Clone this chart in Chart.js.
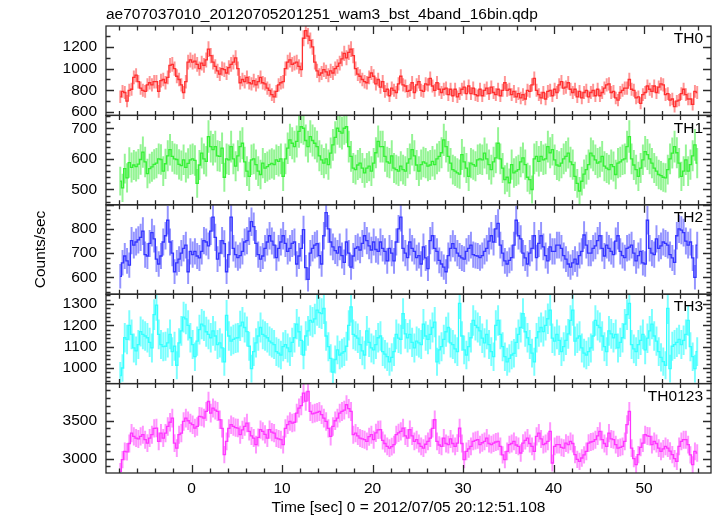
<!DOCTYPE html>
<html><head><meta charset="utf-8">
<script src="https://cdn.jsdelivr.net/npm/chart.js@4.4.1/dist/chart.umd.min.js"></script>
<style>html,body{margin:0;padding:0;background:#fff;}canvas{display:block;}</style>
</head><body>
<canvas id="c" width="717" height="516"></canvas>
<script>
const TITLE = 'ae707037010_20120705201251_wam3_bst_4band_16bin.qdp';
const X_TITLE = 'Time [sec] 0 = 2012/07/05 20:12:51.108';
const Y_TITLE = 'Counts/sec';
const PANEL_NAMES = ['TH0', 'TH1', 'TH2', 'TH3', 'TH0123'];
const BIN_START = -8;      // s, first bin left edge
const BIN_WIDTH = 0.25;    // s

const th0 = [
 740,790,780,700,800,810,920,940,880,820,800,790,850,870,850,880,
 880,790,890,900,870,920,1030,1040,1000,930,900,850,780,880,1060,1080,
 1060,1070,1040,1000,1050,1030,1080,1180,1120,1060,1020,980,950,1000,990,960,
 1010,1040,1060,1100,1000,870,900,880,920,870,860,890,850,880,920,870,
 860,820,800,760,740,790,850,870,880,1000,1060,1080,1040,1050,1060,1020,
 990,1280,1350,1300,1260,1200,1060,980,940,960,990,970,940,980,960,1000,
 1020,1050,1090,1140,1100,1150,1180,1120,1000,950,930,900,880,870,920,960,
 930,860,900,830,880,790,810,750,820,800,780,860,930,850,840,790,
 800,870,780,850,880,800,790,860,850,910,840,800,870,810,780,810,
 820,760,810,750,810,740,770,810,830,770,840,770,820,760,750,810,
 750,800,820,770,830,780,760,810,750,800,870,800,810,760,790,740,
 770,730,760,720,800,790,850,910,800,760,730,780,720,790,800,750,
 810,780,850,880,820,830,870,810,780,810,740,790,730,780,800,740,
 780,800,750,810,750,780,820,850,860,780,790,730,710,780,800,820,
 820,900,810,800,730,740,680,760,780,840,810,790,840,780,830,860,
 850,760,770,710,720,650,700,710,770,810,760,720,720,670,790,780
];
const th1 = [
 527,505,568,538,588,572,580,575,583,598,622,590,552,568,574,582,
 586,600,598,560,584,610,630,608,600,598,582,578,597,572,585,597,
 600,595,520,580,619,600,592,673,640,630,640,610,608,635,540,600,
 597,640,600,576,610,640,651,590,560,543,597,600,581,560,549,586,
 570,575,581,585,581,597,592,600,543,600,635,662,651,640,657,690,
 705,700,660,640,673,660,651,640,610,597,586,600,581,619,646,670,
 700,690,684,700,705,640,608,570,565,580,586,570,554,570,576,560,
 586,620,657,640,640,608,590,586,610,570,565,560,576,565,560,586,
 600,630,610,580,560,581,590,586,576,580,592,581,600,608,620,662,
 640,608,586,565,560,554,550,614,590,570,543,586,581,576,597,600,
 597,619,600,581,565,590,603,651,600,570,532,540,522,581,554,560,
 565,590,603,581,540,532,500,600,608,592,608,597,600,640,620,630,
 597,580,576,586,600,608,619,590,581,543,520,495,527,550,565,581,
 619,610,597,586,590,608,576,570,565,581,575,549,586,590,597,600,
 640,673,600,580,565,543,570,597,624,614,600,586,570,560,549,545,
 540,538,565,600,619,640,620,586,543,560,597,560,581,610,646,586
];
const th2 = [
 604,660,688,668,650,752,733,746,755,765,791,694,688,740,785,759,
 675,655,688,746,772,836,746,700,623,660,675,700,720,733,623,707,
 694,707,688,680,707,752,746,730,791,849,765,675,700,752,739,623,
 694,849,720,694,681,690,707,746,752,791,830,810,740,694,675,688,
 720,746,772,750,733,681,720,746,772,740,707,720,740,746,655,688,
 720,797,640,591,700,720,733,739,690,655,772,868,800,746,726,710,
 700,726,690,662,746,700,642,688,720,726,713,740,772,752,730,713,
 746,715,707,746,720,707,668,720,700,668,746,800,849,720,700,681,
 746,720,707,681,690,655,726,680,636,752,772,720,707,670,655,642,
 623,690,720,739,720,700,688,680,675,707,720,733,694,690,688,681,
 690,707,720,750,772,746,800,823,733,700,668,655,670,681,733,836,
 772,759,700,680,655,700,720,772,681,740,772,726,690,668,726,707,
 707,733,733,720,690,675,655,642,660,675,655,690,707,775,733,700,
 700,720,730,752,772,720,688,733,720,707,694,750,772,707,690,681,
 720,725,733,700,668,690,707,660,655,836,720,700,694,759,720,730,
 746,740,733,694,680,662,772,800,795,785,750,733,746,680,600,733
];
const th3 = [
 965,1000,1142,1134,1200,1158,1094,1080,1110,1171,1158,1150,1142,1120,1094,1250,
 1295,1158,1110,1100,1102,1118,1158,1077,1102,1013,1118,1174,1239,1230,1200,1142,
 1110,1053,1126,1180,1206,1198,1170,1158,1142,1174,1150,1110,1118,1094,1029,1247,
 1150,1126,1134,1140,1142,1198,1215,1190,1171,1102,997,1077,1118,1150,1190,1158,
 1150,1142,1126,1118,1110,1077,1070,1061,1100,1110,1094,1077,1120,1142,1206,1170,
 1130,1061,1150,1174,1223,1215,1230,1271,1260,1255,1279,1150,1100,1045,981,1040,
 1085,1061,1070,1077,1102,1200,1287,1158,1150,1140,1110,1080,1061,1174,1120,1094,
 1085,1110,1142,1150,1077,1065,1053,1029,1050,1077,1158,1140,1134,1255,1160,1142,
 1158,1120,1094,1126,1118,1110,1206,1150,1134,1158,1190,1215,1029,1085,1100,1134,
 1170,1190,1118,1110,1090,1077,1303,1150,1085,1061,1100,1142,1223,1200,1190,1174,
 1140,1118,1158,1110,1077,1053,1200,1223,1158,1100,1053,1029,1045,1061,1069,1120,
 1158,1190,1255,1170,1142,1110,1070,1029,1142,1170,1190,1171,1200,1231,1271,1140,
 1126,1158,1130,1077,1100,1130,1160,1223,1271,1126,1140,1150,1094,1070,1061,1077,
 1094,1150,1223,1200,1190,1150,1100,1077,1174,1160,1142,1158,1094,1120,1142,1206,
 1250,1303,1110,1090,1077,1110,1130,1158,1085,1140,1174,1206,1150,1126,1077,1050,
 1030,1013,1280,997,1102,1110,1120,1134,1110,1130,1158,1223,1100,1053,997,1077
];
const th0123 = [
 2833,2987,3096,3090,3200,3338,3294,3272,3260,3294,3316,3250,3206,3272,3316,3400,
 3404,3228,3338,3272,3338,3425,3480,3535,3206,3140,3316,3338,3491,3535,3500,3469,
 3448,3404,3425,3557,3550,3535,3623,3754,3601,3667,3640,3623,3513,3400,3053,3228,
 3400,3448,3425,3410,3404,3316,3380,3425,3469,3360,3300,3272,3184,3280,3382,3360,
 3320,3272,3382,3350,3338,3272,3260,3250,3184,3400,3448,3491,3469,3480,3601,3667,
 3700,3864,3760,3886,3623,3590,3601,3610,3623,3580,3535,3491,3400,3294,3425,3500,
 3535,3600,3623,3640,3711,3660,3623,3316,3338,3300,3272,3260,3250,3228,3290,3316,
 3250,3340,3380,3382,3240,3200,3162,3140,3160,3184,3316,3340,3360,3404,3300,3272,
 3382,3300,3228,3250,3200,3162,3140,3190,3228,3272,3400,3513,3228,3180,3162,3272,
 3200,3184,3260,3200,3162,3206,3404,3200,2987,3096,3130,3162,3228,3240,3250,3184,
 3210,3228,3272,3200,3184,3206,3220,3228,3162,3050,2987,3096,3184,3200,3228,3180,
 3162,3075,3206,3240,3272,3200,3162,3096,3294,3338,3260,3184,3200,3228,3360,2943,
 3162,3184,3184,3150,3140,3206,3184,3228,3200,3053,2990,2965,3009,3050,3096,3206,
 3220,3228,3250,3300,3360,3250,3200,3162,3338,3260,3250,3184,3140,3150,3162,3228,
 3450,3623,3140,3000,2921,3053,3150,3206,3316,3300,3294,3184,3228,3200,3140,3096,
 3130,3162,3140,3100,3053,3000,2965,3162,3228,3250,3250,3184,3050,2921,3096,3075
];
const SERIES = [th0, th1, th2, th3, th0123];

// axis settings
const X_MIN = -9.45, X_MAX = 57.4;
const X_LABELS = [0, 10, 20, 30, 40, 50];
const X_MAJOR = 10, X_MINOR = 2;
const Y_MIN = [569, 450, 530, 927, 2811];
const Y_MAX = [1393, 742, 900, 1346, 3990];
const Y_LABELS = [[600, 800, 1000, 1200], [500, 600, 700], [600, 700, 800], [1000, 1100, 1200, 1300], [3000, 3500]];
const Y_MAJOR = [200, 100, 100, 100, 500];
const Y_MINOR = [100, 20, 20, 20, 100];

const LINE_COLORS = ['#ff2f2f', '#35f035', '#3535ff', '#35ffff', '#ff35ff'];
const BAR_COLORS = ['rgba(255,60,60,0.55)', 'rgba(60,235,60,0.55)', 'rgba(60,60,255,0.55)', 'rgba(50,255,255,0.65)', 'rgba(255,60,255,0.55)'];

const FONT = '"Liberation Sans", Arial, Helvetica, sans-serif';
const FS = 15.5;
Chart.defaults.font.family = FONT;
Chart.defaults.font.size = FS;
Chart.defaults.color = '#000';

const times = th0.map((_, i) => BIN_START + BIN_WIDTH * (i + 0.5));
const poissonErr = v => Math.sqrt(v * BIN_WIDTH) / BIN_WIDTH;
const PANEL_IDS = PANEL_NAMES.map((_, p) => 'y' + p);

const datasets = [];
SERIES.forEach((vals, p) => {
  datasets.push({
    type: 'bar', label: PANEL_NAMES[p] + ' err', yAxisID: PANEL_IDS[p], xAxisID: 'x',
    data: vals.map((v, i) => ({ x: times[i], y: [v - poissonErr(v), v + poissonErr(v)] })),
    backgroundColor: BAR_COLORS[p], borderWidth: 0, barThickness: 1.3, grouped: false, order: 2
  });
  datasets.push({
    type: 'line', label: PANEL_NAMES[p], yAxisID: PANEL_IDS[p], xAxisID: 'x',
    data: vals.map((v, i) => ({ x: times[i], y: v })),
    borderColor: LINE_COLORS[p], borderWidth: 1.3, pointRadius: 0, stepped: 'middle', fill: false, order: 1
  });
});

function yScale(p) {
  return {
    type: 'linear', position: 'left', stack: 'panels', stackWeight: 1, weight: 10 - p,
    min: Y_MIN[p], max: Y_MAX[p],
    grid: { display: false, drawTicks: false }, border: { display: false },
    ticks: { color: '#000', padding: 9, autoSkip: false, font: { size: FS }, callback: v => String(v) },
    afterBuildTicks: s => { s.ticks = Y_LABELS[p].map(v => ({ value: v })); },
    afterFit: s => { s.width = 106; },
    title: p === 2 ? { display: true, text: Y_TITLE, color: '#000', font: { size: FS }, padding: { top: 31, bottom: 0 } } : { display: false }
  };
}

const scales = {
  x: {
    type: 'linear', position: 'bottom', min: X_MIN, max: X_MAX, offset: false,
    grid: { display: false, drawTicks: false }, border: { display: false },
    ticks: { color: '#000', padding: 6, maxRotation: 0, autoSkip: false, font: { size: FS }, callback: v => String(v) },
    afterBuildTicks: s => { s.ticks = X_LABELS.map(v => ({ value: v })); },
    afterFit: s => { s.height = 43; },
    title: { display: true, text: X_TITLE, color: '#000', font: { size: FS }, padding: { top: 0, bottom: -1 } }
  }
};
PANEL_IDS.forEach((id, p) => { scales[id] = yScale(p); });

const framePlugin = {
  id: 'frames',
  beforeDatasetDraw(chart, args) {
    const ys = args.meta.yScale, ca = chart.chartArea, ctx = chart.ctx;
    ctx.save();
    ctx.beginPath();
    ctx.rect(ca.left, ys.top, ca.right - ca.left, ys.bottom - ys.top);
    ctx.clip();
  },
  afterDatasetDraw(chart) { chart.ctx.restore(); },
  afterDraw(chart) {
    const ctx = chart.ctx, ca = chart.chartArea, xs = chart.scales.x;
    ctx.save();
    ctx.strokeStyle = '#2a2a2a';
    ctx.lineWidth = 1.3;
    PANEL_IDS.forEach((id, p) => {
      const ys = chart.scales[id];
      const top = ys.top, bot = ys.bottom;
      ctx.strokeRect(ca.left, top, ca.right - ca.left, bot - top);
      ctx.beginPath();
      for (let k = Math.ceil(X_MIN / X_MINOR); k * X_MINOR <= X_MAX; k++) {
        const v = k * X_MINOR;
        const px = Math.round(xs.getPixelForValue(v)) + 0.5;
        const len = (v % X_MAJOR === 0) ? 8 : 4.5;
        ctx.moveTo(px, top); ctx.lineTo(px, top + len);
        ctx.moveTo(px, bot); ctx.lineTo(px, bot - len);
      }
      for (let k = Math.ceil(Y_MIN[p] / Y_MINOR[p]); k * Y_MINOR[p] <= Y_MAX[p]; k++) {
        const v = k * Y_MINOR[p];
        const py = Math.round(ys.getPixelForValue(v)) + 0.5;
        const len = (v % Y_MAJOR[p] === 0) ? 8 : 4.5;
        ctx.moveTo(ca.left, py); ctx.lineTo(ca.left + len, py);
        ctx.moveTo(ca.right, py); ctx.lineTo(ca.right - len, py);
      }
      ctx.stroke();
      ctx.fillStyle = '#000';
      ctx.font = FS + 'px ' + FONT;
      ctx.textAlign = 'right';
      ctx.textBaseline = 'middle';
      ctx.fillText(PANEL_NAMES[p], ca.right - 8, top + 13);
    });
    ctx.restore();
  }
};

new Chart(document.getElementById('c'), {
  type: 'bar',
  data: { datasets },
  options: {
    responsive: false, animation: false, devicePixelRatio: 1,
    layout: { padding: { left: 0, right: 6, top: 0, bottom: 0 } },
    plugins: {
      legend: { display: false }, tooltip: { enabled: false },
      title: { display: true, text: TITLE, align: 'start', fullSize: false, color: '#000',
               font: { size: FS, weight: 'normal' }, padding: { top: 5, bottom: 2.4 } }
    },
    scales
  },
  plugins: [framePlugin]
});
</script>
</body></html>
